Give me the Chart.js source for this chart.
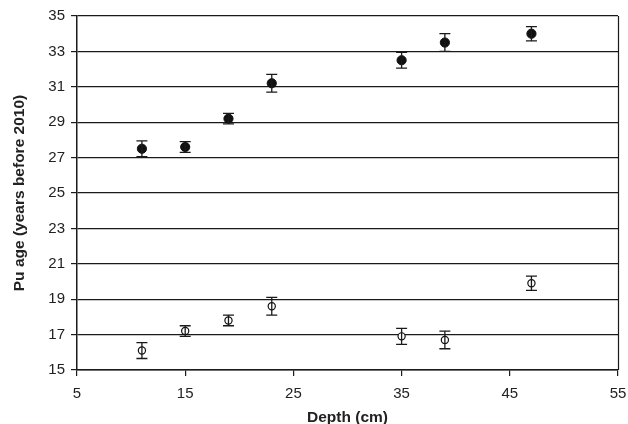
<!DOCTYPE html>
<html>
<head>
<meta charset="utf-8">
<script src="https://cdn.jsdelivr.net/npm/chart.js@4/dist/chart.umd.min.js"></script>
<style>
  html, body { margin: 0; padding: 0; background: #fff; }
  #wrap { width: 628px; height: 424px; position: relative; }
</style>
</head>
<body>
<div id="wrap"><canvas id="c" width="628" height="424"></canvas></div>
<script>
// Depth (cm)
const depths = [11, 15, 19, 23, 35, 39, 47];
// Filled circles: Pu age (years before 2010)
const filledAges = [27.5, 27.6, 29.2, 31.2, 32.5, 33.5, 34.0];
const filledErr  = [0.45, 0.3, 0.3, 0.5, 0.45, 0.5, 0.4];
// Open circles
const openAges = [16.1, 17.2, 17.8, 18.6, 16.9, 16.7, 19.9];
const openErr  = [0.45, 0.3, 0.3, 0.5, 0.45, 0.5, 0.4];
// Axis ticks
const xTicks = [5, 15, 25, 35, 45, 55];
const yTicks = [15, 17, 19, 21, 23, 25, 27, 29, 31, 33, 35];

const toPoints = (ys) => depths.map((d, i) => ({ x: d, y: ys[i] }));

const errorBarPlugin = {
  id: 'errorBars',
  afterDatasetsDraw(chart) {
    const ctx = chart.ctx;
    const xs = chart.scales.x, ys = chart.scales.y;
    chart.data.datasets.forEach((ds) => {
      const errs = ds.errors || [];
      ctx.save();
      ctx.strokeStyle = '#1a1a1a';
      ctx.lineWidth = 1.3;
      ds.data.forEach((p, i) => {
        const e = errs[i];
        if (e == null) return;
        const px = xs.getPixelForValue(p.x);
        const yt = ys.getPixelForValue(p.y + e);
        const yb = ys.getPixelForValue(p.y - e);
        const cw = 5.5;
        ctx.beginPath();
        ctx.moveTo(px, yt); ctx.lineTo(px, yb);
        ctx.moveTo(px - cw, yt); ctx.lineTo(px + cw, yt);
        ctx.moveTo(px - cw, yb); ctx.lineTo(px + cw, yb);
        ctx.stroke();
      });
      ctx.restore();
    });
  }
};

const frameRightPlugin = {
  id: 'frameRight',
  afterDraw(chart) {
    const a = chart.chartArea, ctx = chart.ctx;
    ctx.save();
    ctx.strokeStyle = '#1a1a1a';
    ctx.lineWidth = 1.2;
    ctx.beginPath();
    ctx.moveTo(Math.round(a.right) + 0.5, a.top);
    ctx.lineTo(Math.round(a.right) + 0.5, a.bottom);
    ctx.stroke();
    ctx.restore();
  }
};

new Chart(document.getElementById('c'), {
  type: 'scatter',
  data: {
    datasets: [
      {
        label: 'filled',
        data: toPoints(filledAges),
        errors: filledErr,
        pointRadius: 4.6,
        pointBackgroundColor: '#111',
        pointBorderColor: '#111',
        pointBorderWidth: 1,
        showLine: false
      },
      {
        label: 'open',
        data: toPoints(openAges),
        errors: openErr,
        pointRadius: 3.6,
        pointBackgroundColor: '#fff',
        pointBorderColor: '#111',
        pointBorderWidth: 1.2,
        showLine: false
      }
    ]
  },
  options: {
    responsive: false,
    animation: false,
    devicePixelRatio: 1,
    layout: { padding: { top: 16, right: 10, bottom: 0, left: 0 } },
    plugins: { legend: { display: false }, tooltip: { enabled: false } },
    scales: {
      x: {
        type: 'linear',
        min: 5, max: 55,
        afterBuildTicks: (s) => { s.ticks = xTicks.map(v => ({ value: v })); },
        afterFit: (s) => { s.height = 54; s.paddingRight = 0; s.paddingLeft = 0; },
        ticks: { color: '#222', font: { family: 'Liberation Sans, Arial, sans-serif', size: 15 }, padding: 9, maxRotation: 0 },
        grid: { drawOnChartArea: false, drawTicks: true, tickLength: 6, color: '#1a1a1a', lineWidth: 1.2 },
        border: { display: true, color: '#1a1a1a', width: 1.5 },
        title: {
          display: true, text: 'Depth (cm)', color: '#222',
          font: { family: 'Liberation Sans, Arial, sans-serif', size: 15.5, weight: 'bold', lineHeight: 0.8 },
          padding: { top: 0, bottom: 0 }
        }
      },
      y: {
        type: 'linear',
        min: 15, max: 35,
        afterBuildTicks: (s) => { s.ticks = yTicks.map(v => ({ value: v })); },
        afterFit: (s) => { s.width = 77; s.paddingTop = 0; s.paddingBottom = 0; },
        ticks: { color: '#222', font: { family: 'Liberation Sans, Arial, sans-serif', size: 15 }, padding: 6 },
        grid: { drawOnChartArea: true, drawTicks: true, tickLength: 6, color: '#1a1a1a', lineWidth: 1.2 },
        border: { display: true, color: '#1a1a1a', width: 1.5 },
        title: {
          display: true, text: 'Pu age (years before 2010)', color: '#222',
          font: { family: 'Liberation Sans, Arial, sans-serif', size: 15.5, weight: 'bold', lineHeight: 1 },
          padding: { top: 12, bottom: 0 }
        }
      }
    }
  },
  plugins: [errorBarPlugin, frameRightPlugin]
});
</script>
</body>
</html>
